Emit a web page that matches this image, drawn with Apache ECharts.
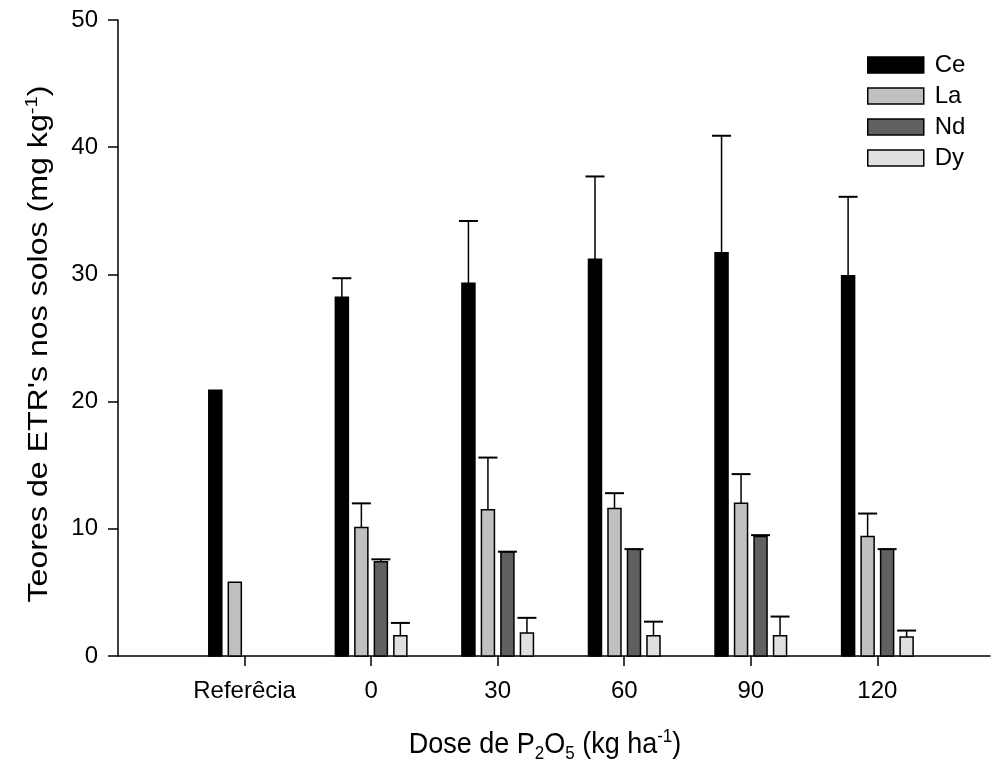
<!DOCTYPE html>
<html>
<head>
<meta charset="utf-8">
<script src="https://cdn.jsdelivr.net/npm/echarts@6/dist/echarts.min.js"></script>
<style>html,body{margin:0;padding:0;background:#fff}#c{width:991px;height:765px}</style>
</head>
<body>
<div id="c"></div>
<script>
const categories = ['Referêcia', '0', '30', '60', '90', '120'];
const ceValues = [20.9, 28.2, 29.3, 31.2, 31.7, 29.9];
const ceErr    = [null, 1.5, 4.9, 6.5, 9.2, 6.2];
const laValues = [5.8, 10.1, 11.5, 11.6, 12.0, 9.4];
const laErr    = [null, 1.9, 4.1, 1.2, 2.3, 1.8];
const ndValues = [null, 7.4, 8.2, 8.4, 9.4, 8.4];
const ndErr    = [null, 0.2, 0.0, 0.0, 0.1, 0.0];
const dyValues = [null, 1.6, 1.8, 1.6, 1.6, 1.5];
const dyErr    = [null, 1.0, 1.2, 1.1, 1.5, 0.5];
const yTicks = [0, 10, 20, 30, 40, 50];
const seriesNames = ['Ce', 'La', 'Nd', 'Dy'];

const FONT = 'Liberation Sans, Arial, sans-serif';
const fills = ['#000000', '#c0c0c0', '#606060', '#e0e0e0'];
const offsets = [-29.25, -9.75, 9.75, 29.25];
const BAR_W = 13, CAP_HALF = 9.5;

function buildData(vals, errs) {
  const out = [];
  vals.forEach((v, i) => { if (v != null) out.push([i, v, errs[i] == null ? -1 : errs[i]]); });
  return out;
}
const allVals = [ceValues, laValues, ndValues, dyValues];
const allErrs = [ceErr, laErr, ndErr, dyErr];

function makeSeries(k) {
  return {
    name: seriesNames[k],
    type: 'custom',
    encode: { x: 0, y: 1 },
    itemStyle: { color: fills[k], borderColor: '#000', borderWidth: 1.5 },
    data: buildData(allVals[k], allErrs[k]),
    z: 2,
    renderItem: function (params, api) {
      const xi = api.value(0), v = api.value(1), e = api.value(2);
      const base = api.coord([xi, 0]);
      const top = api.coord([xi, v]);
      const cx = base[0] + offsets[k];
      const children = [{
        type: 'rect',
        shape: { x: cx - BAR_W / 2, y: top[1], width: BAR_W, height: base[1] - top[1] },
        style: { fill: fills[k], stroke: '#000', lineWidth: 1.5 }
      }];
      if (e >= 0) {
        const et = api.coord([xi, v + e]);
        children.push({ type: 'line', shape: { x1: cx, y1: top[1], x2: cx, y2: et[1] }, style: { stroke: '#000', lineWidth: 1.5 } });
        children.push({ type: 'line', shape: { x1: cx - CAP_HALF, y1: et[1], x2: cx + CAP_HALF, y2: et[1] }, style: { stroke: '#000', lineWidth: 2 } });
      }
      return { type: 'group', children: children };
    }
  };
}

const chart = echarts.init(document.getElementById('c'), null, { renderer: 'canvas' });
const tickIdx = categories.map((c, i) => i);
chart.setOption({
  animation: false,
  backgroundColor: '#fff',
  textStyle: { fontFamily: FONT, color: '#000' },
  grid: { left: 118, right: 1, top: 20, bottom: 109, containLabel: false },
  xAxis: {
    type: 'value', min: -1, max: 5.89,
    axisLine: { show: true, onZero: false, lineStyle: { color: '#000', width: 1.5 } },
    axisTick: { show: true, customValues: tickIdx, length: 10, lineStyle: { color: '#000', width: 1.5 } },
    axisLabel: { customValues: tickIdx, formatter: v => categories[Math.round(v)], color: '#000', fontSize: 24, fontFamily: FONT, margin: 23 },
    splitLine: { show: false }
  },
  yAxis: {
    type: 'value', min: 0, max: 50, interval: 10,
    axisLine: { show: true, onZero: false, lineStyle: { color: '#000', width: 1.5 } },
    axisTick: { show: true, length: 10, lineStyle: { color: '#000', width: 1.5 } },
    axisLabel: { color: '#000', fontSize: 24, fontFamily: FONT, margin: 20, formatter: v => (yTicks.indexOf(v) >= 0 ? String(v) : '') },
    splitLine: { show: false }
  },
  legend: {
    orient: 'vertical', left: 862, top: 48,
    itemWidth: 56, itemHeight: 16, itemGap: 7,
    icon: 'rect',
    textStyle: { fontSize: 24, fontFamily: FONT, color: '#000', padding: [0, 0, 0, 6] },
    data: seriesNames.map((n, k) => ({ name: n, itemStyle: { color: fills[k], borderColor: '#000', borderWidth: 1.5 } }))
  },
  graphic: [
    {
      type: 'text', x: 40, y: 344, rotation: Math.PI / 2, scaleX: 1.19,
      style: {
        text: "{n|Teores de ETR's nos solos (mg kg}{s|-1}{n|)}",
        textAlign: 'center', textVerticalAlign: 'middle',
        rich: {
          n: { fontSize: 27, fontFamily: FONT, fill: '#000', lineHeight: 32 },
          s: { fontSize: 17, fontFamily: FONT, fill: '#000', lineHeight: 17, verticalAlign: 'top' }
        }
      }
    },
    {
      type: 'text', x: 545, y: 745, scaleY: 1.12,
      style: {
        text: '{n|Dose de P}{b|2}{n|O}{b|5}{n| (kg ha}{s|-1}{n|)}',
        textAlign: 'center', textVerticalAlign: 'middle',
        rich: {
          n: { fontSize: 27, fontFamily: FONT, fill: '#000', lineHeight: 32 },
          b: { fontSize: 17, fontFamily: FONT, fill: '#000', lineHeight: 17, verticalAlign: 'bottom' },
          s: { fontSize: 17, fontFamily: FONT, fill: '#000', lineHeight: 17, verticalAlign: 'top' }
        }
      }
    }
  ],
  series: [0, 1, 2, 3].map(makeSeries)
});
</script>
</body>
</html>
